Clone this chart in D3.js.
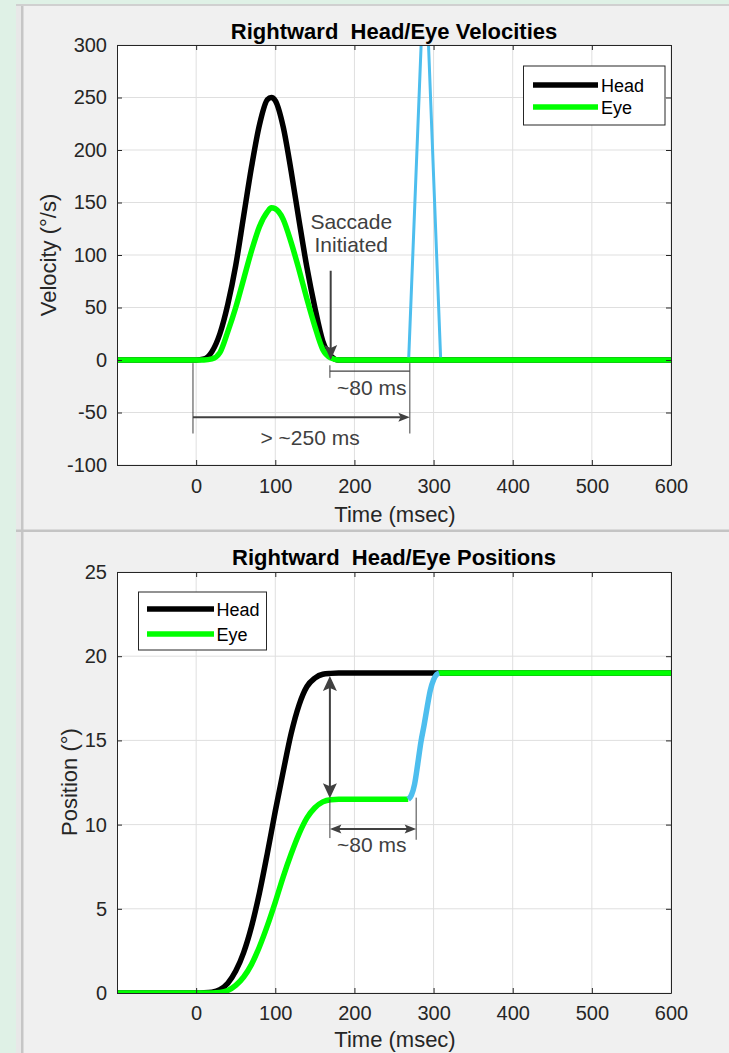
<!DOCTYPE html>
<html><head><meta charset="utf-8">
<script src="https://cdn.jsdelivr.net/npm/d3@7"></script>
<style>
html,body{margin:0;padding:0;background:#f0f0f0;overflow:hidden;}
svg{display:block;}
text{font-family:"Liberation Sans",Arial,Helvetica,sans-serif;white-space:pre;}
</style></head><body>
<svg id="chart" width="729" height="1053"></svg>
<script>
// ---------- data ----------
const timeTicks = [0, 100, 200, 300, 400, 500, 600];
const velTicks = [-100, -50, 0, 50, 100, 150, 200, 250, 300];
const posTicks = [0, 5, 10, 15, 20, 25];

const velTime = [-100, 0, 10, 20, 30, 40, 50, 60, 70, 80, 90, 95, 100, 110, 120, 130, 140, 150, 160, 170, 180, 190, 600];
const headVel = [0, 0, 1, 8, 25, 53, 90, 137, 184, 224, 248, 250, 247, 222, 180, 133, 88, 50, 18, 4, 0, 0, 0];
const eyeVel  = [0, 0, 0, 1, 7, 27, 50, 77, 104, 127, 141, 145, 144, 134, 112, 86, 58, 32, 10, 2, 0, 0, 0];
const sacVelTime = [268.5, 289, 309];
const sacVel = [0, 390, 0];

const posTime = [-100, 0, 10, 20, 30, 40, 50, 60, 70, 80, 90, 100, 110, 120, 130, 140, 150, 160, 170, 180, 600];
const headPos = [0, 0, 0.01, 0.05, 0.2, 0.58, 1.3, 2.4, 3.95, 5.95, 8.3, 10.8, 13.15, 15.4, 17.1, 18.2, 18.7, 18.93, 18.98, 19, 19];
const eyePosTime = [-100, 0, 10, 20, 30, 40, 50, 60, 70, 80, 90, 100, 110, 120, 130, 140, 150, 160, 170, 180, 268];
const eyePos = [0, 0, 0, 0, 0.03, 0.15, 0.45, 0.95, 1.7, 2.75, 4.0, 5.4, 6.9, 8.25, 9.45, 10.4, 11.0, 11.35, 11.48, 11.5, 11.5];
const eyeLateTime = [306, 600];
const eyeLatePos = [19, 19];
const sacPosTime = [268, 272, 276, 280, 284, 288, 292, 296, 300, 304, 307];
const sacPos = [11.5, 11.75, 12.4, 13.6, 14.9, 15.9, 17.0, 18.0, 18.6, 18.92, 19];

const legendLabels = ["Head", "Eye"];
const colors = {head: "#000000", eye: "#00ff00", sac: "#4dbeee", ann: "#404040", axis: "#262626", grid: "#dfdfdf"};

// ---------- layout ----------
const svg = d3.select("#chart");
const FONT = '"Liberation Sans",Arial,Helvetica,sans-serif';
const x = d3.scaleLinear().domain([-100, 600]).range([117, 671]);
const yV = d3.scaleLinear().domain([-100, 300]).range([465, 45]);
const yP = d3.scaleLinear().domain([0, 25]).range([993, 572]);

// figure chrome
svg.append("rect").attr("x", 0).attr("y", 0).attr("width", 729).attr("height", 1053).attr("fill", "#f0f0f0");
svg.append("rect").attr("x", 0).attr("y", 0).attr("width", 729).attr("height", 4).attr("fill", "#dff1e6");
svg.append("rect").attr("x", 0).attr("y", 0).attr("width", 16).attr("height", 1053).attr("fill", "#dff1e6");
svg.append("rect").attr("x", 16).attr("y", 4).attr("width", 5).attr("height", 1049).attr("fill", "#e8e8e8");
svg.append("rect").attr("x", 21).attr("y", 4).attr("width", 2.5).attr("height", 1049).attr("fill", "#c6c6c6");
svg.append("rect").attr("x", 16).attr("y", 4).attr("width", 713).attr("height", 2).attr("fill", "#d0d0d0");
svg.append("rect").attr("x", 16).attr("y", 529.5).attr("width", 713).attr("height", 2.5).attr("fill", "#c4c4c4");

function drawAxes(y, yTicks, clipId) {
  const g = svg.append("g");
  const [y0, y1] = y.range(); // bottom, top
  g.append("rect").attr("x", 117).attr("y", y1).attr("width", 554).attr("height", y0 - y1).attr("fill", "#ffffff");
  g.append("g").selectAll("line").data(timeTicks).join("line")
    .attr("x1", d => x(d)).attr("x2", d => x(d)).attr("y1", y1).attr("y2", y0)
    .attr("stroke", colors.grid).attr("stroke-width", 1);
  g.append("g").selectAll("line").data(yTicks).join("line")
    .attr("x1", 117).attr("x2", 671).attr("y1", d => y(d)).attr("y2", d => y(d))
    .attr("stroke", colors.grid).attr("stroke-width", 1);
  svg.append("clipPath").attr("id", clipId).append("rect")
    .attr("x", 117).attr("y", y1).attr("width", 554).attr("height", y0 - y1);
  return g;
}

const fmt = d => String(d);

function finishAxes(y, yTicks, padX, padY) {
  const [y0, y1] = y.range();
  const style = sel => {
    sel.selectAll("path.domain").attr("stroke", colors.axis).attr("stroke-width", 1);
    sel.selectAll(".tick line").attr("stroke", colors.axis).attr("stroke-width", 1);
    sel.selectAll("text").attr("fill", colors.axis).attr("font-family", FONT).attr("font-size", 20);
  };
  svg.append("g").attr("transform", `translate(0,${y0})`)
    .call(d3.axisBottom(x).tickValues(timeTicks).tickFormat(fmt).tickSizeInner(-5).tickSizeOuter(0).tickPadding(padX)).call(style);
  svg.append("g").attr("transform", `translate(0,${y1})`)
    .call(d3.axisTop(x).tickValues(timeTicks).tickSizeInner(-5).tickSizeOuter(0).tickFormat("")).call(style);
  svg.append("g").attr("transform", `translate(117,0)`)
    .call(d3.axisLeft(y).tickValues(yTicks).tickFormat(fmt).tickSizeInner(-5).tickSizeOuter(0).tickPadding(padY)).call(style);
  svg.append("g").attr("transform", `translate(671,0)`)
    .call(d3.axisRight(y).tickValues(yTicks).tickSizeInner(-5).tickSizeOuter(0).tickFormat("")).call(style);
}

function curve(g, xs, ys, y, color, width, clipId, curveType) {
  const data = xs.map((t, i) => [t, ys[i]]);
  g.append("path").datum(data)
    .attr("clip-path", `url(#${clipId})`)
    .attr("d", d3.line().x(d => x(d[0])).y(d => y(d[1])).curve(curveType || d3.curveMonotoneX))
    .attr("fill", "none").attr("stroke", color).attr("stroke-width", width)
    .attr("stroke-linejoin", "round").attr("stroke-linecap", "butt");
}

function text(g, str, px, py, size, opts = {}) {
  return g.append("text").attr("x", px).attr("y", py).text(str)
    .attr("font-family", FONT).attr("font-size", size)
    .attr("text-anchor", opts.anchor || "middle")
    .attr("font-weight", opts.bold ? "bold" : "normal")
    .attr("fill", opts.fill || colors.axis)
    .attr("xml:space", "preserve");
}

function line(g, xa, ya, xb, yb, w, color) {
  g.append("line").attr("x1", xa).attr("y1", ya).attr("x2", xb).attr("y2", yb)
    .attr("stroke", color || colors.ann).attr("stroke-width", w);
}

function arrowHead(g, tx, ty, dx, dy, len, wid) {
  const px = -dy, py = dx;
  const bx = tx - dx * len, by = ty - dy * len;
  const nx = tx - dx * len * 0.8, ny = ty - dy * len * 0.8;
  g.append("path")
    .attr("d", `M${tx},${ty}L${bx + px * wid / 2},${by + py * wid / 2}L${nx},${ny}L${bx - px * wid / 2},${by - py * wid / 2}Z`)
    .attr("fill", colors.ann);
}

function legend(g, bx, by, bw, bh, lx1, lx2, ys, tx) {
  g.append("rect").attr("x", bx).attr("y", by).attr("width", bw).attr("height", bh)
    .attr("fill", "#ffffff").attr("stroke", colors.axis).attr("stroke-width", 1);
  const cols = [colors.head, colors.eye];
  legendLabels.forEach((lab, i) => {
    line(g, lx1, ys[i], lx2, ys[i], 5.5, cols[i]);
    text(g, lab, tx, ys[i] + 6.5, 18, {anchor: "start", fill: "#000"});
  });
}

// ---------- top: velocities ----------
const gV = drawAxes(yV, velTicks, "clipV");
curve(gV, velTime, headVel, yV, colors.head, 5.5, "clipV");
curve(gV, sacVelTime, sacVel, yV, colors.sac, 3, "clipV", d3.curveLinear);
curve(gV, velTime, eyeVel, yV, colors.eye, 5.5, "clipV");

const aV = svg.append("g");
text(aV, "Saccade", x(196), yV(125), 21, {fill: colors.ann});
text(aV, "Initiated", x(196), yV(103), 21, {fill: colors.ann});
line(aV, x(170), yV(85), x(170), yV(0) - 12, 2);
arrowHead(aV, x(170), yV(0), 0, 1, 15, 13);
line(aV, x(169), yV(-10.5), x(270), yV(-10.5), 1.2);
line(aV, x(169), yV(-5), x(169), yV(-17), 1);
line(aV, x(270), yV(-3), x(270), yV(-70), 1);
text(aV, "~80 ms", x(222), yV(-33), 21, {fill: colors.ann});
line(aV, x(-4), yV(-3), x(-4), yV(-70), 1);
line(aV, x(-4), yV(-54.5), x(270) - 9, yV(-54.5), 2);
arrowHead(aV, x(270), yV(-54.5), 1, 0, 11.5, 9);
text(aV, "> ~250 ms", x(144), yV(-81), 21, {fill: colors.ann});

finishAxes(yV, velTicks, 14, 10);
const lV = svg.append("g");
legend(lV, 523.5, 66, 141.5, 59, 533, 598, [85, 107], 601);
text(svg, "Rightward  Head/Eye Velocities", 394, 39, 22, {bold: true, fill: "#000"});
text(svg, "Time (msec)", 395, 522, 22);
text(svg, "Velocity (°/s)", 0, 0, 22).attr("transform", "translate(56,255) rotate(-90)");

// ---------- bottom: positions ----------
const gP = drawAxes(yP, posTicks, "clipP");
curve(gP, posTime, headPos, yP, colors.head, 5.5, "clipP");
curve(gP, eyePosTime, eyePos, yP, colors.eye, 5.5, "clipP");
curve(gP, eyeLateTime, eyeLatePos, yP, colors.eye, 5.5, "clipP", d3.curveLinear);
curve(gP, sacPosTime, sacPos, yP, colors.sac, 5.5, "clipP");

const aP = svg.append("g");
line(aP, x(169), yP(19) + 12, x(169), yP(11.5) - 12, 2);
arrowHead(aP, x(169), yP(19) + 3, 0, -1, 15, 14);
arrowHead(aP, x(169), yP(11.5) - 1, 0, 1, 15, 14);
line(aP, x(169), yP(11.5), x(169), yP(9.2), 1);
line(aP, x(278), yP(11.6), x(278), yP(9.1), 1);
line(aP, x(169) + 9, yP(9.74), x(278) - 9, yP(9.74), 2);
arrowHead(aP, x(169), yP(9.74), -1, 0, 11.5, 9);
arrowHead(aP, x(278), yP(9.74), 1, 0, 11.5, 9);
text(aP, "~80 ms", x(222), yP(8.4), 21, {fill: colors.ann});

finishAxes(yP, posTicks, 13, 10);
const lP = svg.append("g");
legend(lP, 138.5, 592, 128, 58, 147, 214, [609, 634], 216.5);
text(svg, "Rightward  Head/Eye Positions", 394, 565, 22, {bold: true, fill: "#000"});
text(svg, "Time (msec)", 395, 1047, 22);
text(svg, "Position (°)", 0, 0, 22).attr("transform", "translate(77,782) rotate(-90)");
</script>
</body></html>
